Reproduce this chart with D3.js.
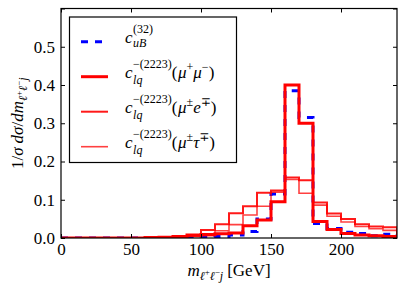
<!DOCTYPE html>
<html>
<head>
<meta charset="utf-8">
<script src="https://cdn.jsdelivr.net/npm/d3@7"></script>
<style>
  body { margin: 0; background: #fff; }
  svg { display: block; }
  text { font-family: "Liberation Serif", "DejaVu Serif", serif; fill: #000; }
</style>
</head>
<body>
<svg width="407" height="289"></svg>
<script>
//bin edges in GeV
var edges = [0, 10, 20, 30, 40, 50, 60, 70, 80, 90, 100, 110, 120,
    130, 140, 150, 160, 170, 180, 190, 200, 210, 220, 230, 240];

//normalised distributions, one value per bin
var uB = [0, 0, 0, 0, 0, 0, 0, 0, 0, 0.001, 0.002, 0.004, 0.008,
    0.017, 0.05, 0.115, 0.385, 0.315, 0.038, 0.025, 0.015, 0.012, 0.006, 0.01];
var muMu = [0, 0, 0, 0, 0, 0, 0.001, 0.002, 0.004, 0.008, 0.009, 0.011, 0.013,
    0.032, 0.047, 0.095, 0.40, 0.30, 0.043, 0.022, 0.012, 0.008, 0.006, 0.004];
var muE = [0, 0, 0, 0, 0, 0, 0, 0.001, 0.002, 0.006, 0.021, 0.036, 0.065,
    0.083, 0.118, 0.124, 0.158, 0.151, 0.093, 0.064, 0.05, 0.036, 0.03, 0.028];
var muTau = [0, 0, 0, 0, 0, 0, 0, 0, 0.001, 0.004, 0.006, 0.019, 0.035,
    0.06, 0.083, 0.12, 0.153, 0.117, 0.086, 0.057, 0.042, 0.03, 0.024, 0.02];

//ticks (0.6 has a tick but no label)
var xTicks = [0, 50, 100, 150, 200];
var yTicks = [0, 0.1, 0.2, 0.3, 0.4, 0.5, 0.6];
var yLabelled = [0, 0.1, 0.2, 0.3, 0.4, 0.5];
var xDomain = [0, 240],
    yDomain = [0, 0.6];

//visual sizes
var svg = d3.select("svg"),
    margin = {left: 61, top: 8.5, right: 10, bottom: 51},
    width = 407 - margin.left - margin.right,
    height = 289 - margin.top - margin.bottom,
    fs = 17,
    fsSmall = 12;

var scaleX = d3.scaleLinear().domain(xDomain).range([0, width]);
var scaleY = d3.scaleLinear().domain(yDomain).range([height, 0]);

var gRoot = svg.append("g")
    .attr("transform", "translate(" + [margin.left, margin.top] + ")");

gRoot.append("clipPath").attr("id", "clip")
    .append("rect").attr("width", width).attr("height", height);

//step outline of a histogram
function stepPoints(vals) {
    var pts = [[edges[0], 0]];
    vals.forEach(function (v, i) {
        pts.push([edges[i], v]);
        pts.push([edges[i + 1], v]);
    });
    pts.push([edges[edges.length - 1], 0]);
    return pts;
}

var line = d3.line()
    .x(d => scaleX(d[0]))
    .y(d => scaleY(d[1]));

var series = [
    {vals: uB, color: "#0000ff", w: 3, dash: "7,7", op: 1},
    {vals: muMu, color: "#ff0000", w: 3, dash: null, op: 1},
    {vals: muE, color: "#ff0000", w: 2, dash: null, op: 0.9},
    {vals: muTau, color: "#ff0000", w: 1.6, dash: null, op: 0.75}
];

var gLines = gRoot.append("g").attr("clip-path", "url(#clip)");
series.forEach(function (s) {
    gLines.append("path")
        .attr("d", line(stepPoints(s.vals)))
        .attr("fill", "none")
        .attr("stroke", s.color)
        .attr("stroke-width", s.w)
        .attr("stroke-opacity", s.op)
        .attr("stroke-dasharray", s.dash)
        .attr("stroke-linejoin", "miter");
});

//axes, matplotlib classic: ticks inward on all four sides
var fmtY = d3.format(".1f");
var axB = d3.axisBottom(scaleX).tickValues(xTicks).tickSizeInner(-4).tickSizeOuter(0)
    .tickPadding(5).tickFormat(d3.format("d"));
var axT = d3.axisTop(scaleX).tickValues(xTicks).tickSizeInner(-4).tickSizeOuter(0)
    .tickFormat("");
var axL = d3.axisLeft(scaleY).tickValues(yTicks).tickSizeInner(-4).tickSizeOuter(0)
    .tickPadding(6).tickFormat(d => yLabelled.indexOf(d) >= 0 ? fmtY(d) : "");
var axR = d3.axisRight(scaleY).tickValues(yTicks).tickSizeInner(-4).tickSizeOuter(0)
    .tickFormat("");

[
    gRoot.append("g").attr("transform", "translate(0," + height + ")").call(axB),
    gRoot.append("g").call(axT),
    gRoot.append("g").call(axL),
    gRoot.append("g").attr("transform", "translate(" + width + ",0)").call(axR)
].forEach(function (g) {
    g.attr("font-family", null).attr("font-size", null);
    g.select(".domain").remove();
    g.selectAll("line").attr("stroke", "#000").attr("stroke-width", 1);
    g.selectAll("text").style("font-size", fs + "px");
});

gRoot.append("rect")
    .attr("width", width).attr("height", height)
    .attr("fill", "none").attr("stroke", "#000").attr("stroke-width", 1.2);

//lay out math pieces as tspans of one text; returns width
function mathText(g, x, y, parts) {
    var text = g.append("text");
    function run(cx, parts) {
        var x0 = cx;
        parts.forEach(function (p) {
            if (p.stack) {
                var w1 = run(cx, p.stack[0]);
                var w2 = run(cx, p.stack[1]);
                cx += Math.max(w1, w2);
                return;
            }
            var t = text.append("tspan")
                .attr("x", cx)
                .attr("y", y + (p.dy || 0))
                .style("font-size", (p.s || fs) + "px")
                .style("font-style", p.i ? "italic" : "normal")
                .text(p.t);
            cx += t.node().getComputedTextLength() + (p.pad || 0);
        });
        return cx - x0;
    }
    return run(x, parts);
}

var supC = -10, subC = 5;
function lqHead() {
    return [
        {t: "c", i: true, pad: 0.5},
        {stack: [
            [{t: "\u2212(2223)", s: fsSmall, dy: supC}],
            [{t: "lq", i: true, s: fsSmall, dy: subC + 1}]
        ]}
    ];
}

var legendLabels = [
    [{t: "c", i: true, pad: 0.5},
        {stack: [[{t: "(32)", s: fsSmall, dy: supC}],
            [{t: "uB", i: true, s: fsSmall, dy: subC - 1}]]}],
    lqHead().concat([{t: "(", pad: 0.5}, {t: "\u03bc", i: true},
        {t: "+", s: fsSmall, dy: -7}, {t: "\u03bc", i: true},
        {t: "\u2212", s: fsSmall, dy: -7}, {t: ")"}]),
    lqHead().concat([{t: "(", pad: 0.5}, {t: "\u03bc", i: true},
        {t: "\u00b1", s: fsSmall, dy: -7}, {t: "e", i: true},
        {t: "\u2213", s: fsSmall, dy: -7}, {t: ")"}]),
    lqHead().concat([{t: "(", pad: 0.5}, {t: "\u03bc", i: true},
        {t: "\u00b1", s: fsSmall, dy: -7}, {t: "\u03c4", i: true},
        {t: "\u2213", s: fsSmall, dy: -7}, {t: ")"}])
];

//legend
var gLegend = svg.append("g");
gLegend.append("rect")
    .attr("x", 69.5).attr("y", 17)
    .attr("width", 167).attr("height", 145.5)
    .attr("fill", "#fff").attr("stroke", "#000").attr("stroke-width", 1.2);

series.forEach(function (s, i) {
    var y = 41.7 + i * 35;
    gLegend.append("line")
        .attr("x1", 81).attr("x2", 108)
        .attr("y1", y).attr("y2", y)
        .attr("stroke", s.color)
        .attr("stroke-width", s.w)
        .attr("stroke-opacity", s.op)
        .attr("stroke-dasharray", s.dash);
    mathText(gLegend, 125, y + 1, legendLabels[i]);
});

//subscript l+l-j
function mSub(pad) {
    return [{t: "\u2113", i: true, s: fsSmall, dy: 4},
        {t: "+", s: 9, dy: -1}, {t: "\u2113", i: true, s: fsSmall, dy: 4},
        {t: "\u2212", s: 9, dy: -1}, {t: "j", i: true, s: fsSmall, dy: 4, pad: pad}];
}

//x label
var gXLabel = svg.append("g");
var wx = mathText(gXLabel, 0, 276,
    [{t: "m", i: true}].concat(mSub(4)).concat([{t: "[GeV]"}]));
gXLabel.attr("transform", "translate(" + (margin.left + width / 2 - wx / 2) + ",0)");

//y label
var gYLabel = svg.append("g");
var wy = mathText(gYLabel, 0, 0, [
    {t: "1/"}, {t: "\u03c3", i: true, pad: 4}, {t: "d\u03c3", i: true},
    {t: "/"}, {t: "dm", i: true}].concat(mSub(0)));
gYLabel.attr("transform", "translate(23," + (margin.top + height / 2 + wy / 2) + ") rotate(-90)");
</script>
</body>
</html>
